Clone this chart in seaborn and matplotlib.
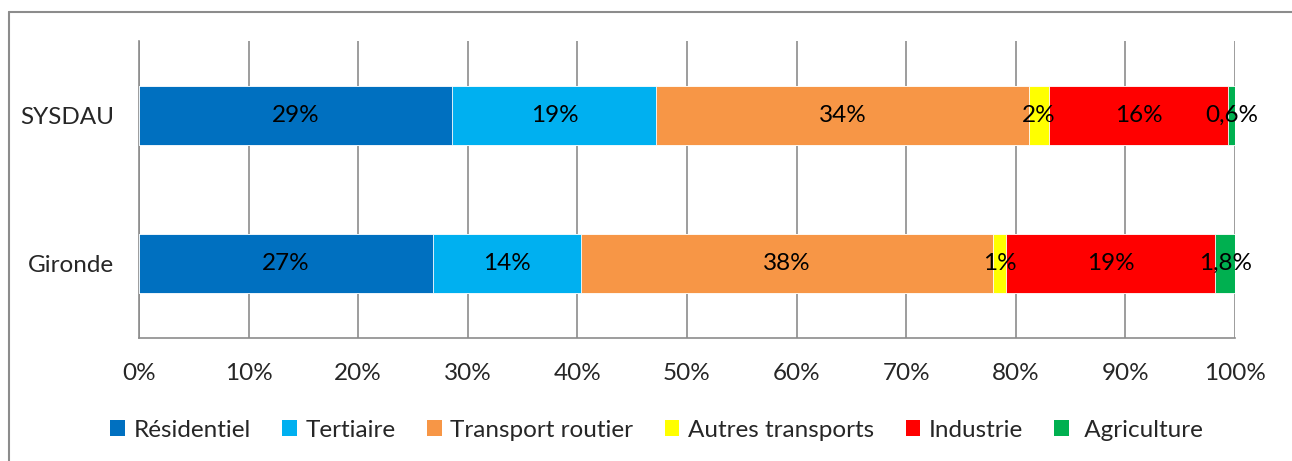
import matplotlib
matplotlib.use("Agg")
from matplotlib import pyplot as plt
from matplotlib.patches import Patch
from matplotlib.lines import Line2D
import seaborn as sns
import numpy as np
import pandas as pd

# data (shares of emissions, %)
territoires = ["SYSDAU", "Gironde"]
secteurs = ["Résidentiel", "Tertiaire", "Transport routier",
            "Autres transports", "Industrie", "Agriculture"]
sysdau = [28.6, 18.6, 34.0, 1.8, 16.4, 0.6]
gironde = [26.8, 13.5, 37.6, 1.2, 19.1, 1.8]
labels_sysdau = ["29%", "19%", "34%", "2%", "16%", "0,6%"]
labels_gironde = ["27%", "14%", "38%", "1%", "19%", "1,8%"]
couleurs = ["#0070C0", "#00B0F0", "#F79646", "#FFFF00", "#FF0000", "#00B050"]

df = pd.DataFrame([sysdau, gironde], index=territoires, columns=secteurs) / 100
cum = df.cumsum(axis=1)

sns.set_style("white")
plt.rcParams['font.family'] = ['Lato', 'DejaVu Sans']
fs = 17.5
grey = "#8c8c8c"

fig = plt.figure(figsize=(12.92, 4.61), dpi=100)
ax = fig.add_axes([139 / 1292, 1 - 338 / 461, (1235 - 139) / 1292, (338 - 41) / 461])

# stacked bars: draw cumulative totals from the last sector backwards
for s, c in zip(secteurs[::-1], couleurs[::-1]):
    sns.barplot(x=cum[s].values, y=territoires, orient="h", color=c,
                saturation=1, width=0.4, errorbar=None, edgecolor="white",
                linewidth=0.6, ax=ax, zorder=3)

# value labels
for row, labs in enumerate([labels_sysdau, labels_gironde]):
    t = territoires[row]
    for s, lab in zip(secteurs, labs):
        xc = cum.loc[t, s] - df.loc[t, s] / 2
        ax.text(xc, row, lab, ha="center", va="center", fontsize=fs,
                color="black", zorder=5)

ax.set_xlim(0, 1)
ax.set_ylim(1.5, -0.5)
ax.set_xticks(np.arange(0, 1.01, 0.1))
ax.set_xticklabels([f"{int(round(v * 100))}%" for v in np.arange(0, 1.01, 0.1)])
ax.xaxis.grid(True, color=grey, linewidth=1.2, zorder=0)
ax.yaxis.grid(False)
ax.set_axisbelow(True)

ax.set_yticks([0, 1])
ax.set_yticklabels(territoires)
ax.set_yticks([-0.5, 0.5, 1.5], minor=True)
ax.tick_params(axis="y", which="major", length=0, pad=18, labelsize=fs)
ax.tick_params(axis="y", which="minor", length=6, width=1.2, color=grey, direction="out")
ax.tick_params(axis="x", length=6, width=1.2, color=grey, direction="out", pad=12,
               labelsize=fs)
ax.set_xlabel("")
ax.set_ylabel("")

for side in ["top", "right"]:
    ax.spines[side].set_visible(False)
for side in ["left", "bottom"]:
    ax.spines[side].set_color(grey)
    ax.spines[side].set_linewidth(1.2)

handles = [Patch(facecolor=c, edgecolor="none") for c in couleurs]
fig.legend(handles, secteurs[:5] + [" Agriculture"], loc="center",
           bbox_to_anchor=(0.508, 1 - 430 / 461), ncol=6, frameon=False,
           fontsize=fs, handlelength=0.6, handleheight=0.6,
           handletextpad=0.35, columnspacing=1.3)

# outer chart frame (left and top edges visible)
fig.add_artist(Line2D([9 / 1292, 9 / 1292], [0, 1 - 12 / 461],
                      transform=fig.transFigure, color=grey, linewidth=1.5))
fig.add_artist(Line2D([9 / 1292, 1], [1 - 12 / 461, 1 - 12 / 461],
                      transform=fig.transFigure, color=grey, linewidth=1.5))

fig.savefig("out.png", dpi=100)
